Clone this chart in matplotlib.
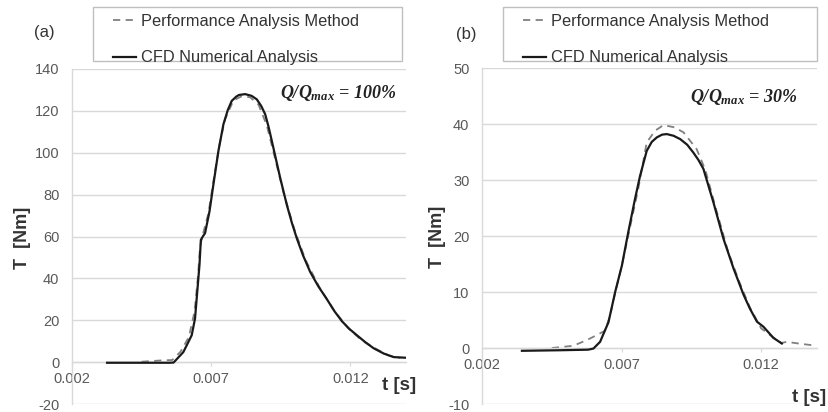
import matplotlib
matplotlib.use("Agg")
import matplotlib.pyplot as plt
from matplotlib.patches import Rectangle

plt.rcParams['font.family'] = ['Liberation Sans', 'DejaVu Sans']
plt.rcParams['axes.unicode_minus'] = False
plt.rcParams['mathtext.fontset'] = 'custom'
plt.rcParams['mathtext.rm'] = 'Liberation Serif:bold:italic'
plt.rcParams['mathtext.it'] = 'Liberation Serif:bold:italic'
plt.rcParams['mathtext.bf'] = 'Liberation Serif:bold:italic'

# ---- data
# (a) Q/Qmax = 100%
t_a_cfd = [0.00326, 0.0045, 0.0055, 0.00565, 0.0060, 0.0063, 0.00642, 0.00649, 0.00658,
           0.00663, 0.0067, 0.00678, 0.00694, 0.00708, 0.00726, 0.00744, 0.0076, 0.00774,
           0.0079, 0.0080, 0.00822, 0.00845, 0.00864, 0.0088, 0.00894, 0.00906, 0.00918,
           0.00933, 0.00948, 0.00972, 0.0099, 0.01008, 0.0103, 0.01056, 0.01085, 0.01116,
           0.01143, 0.0117, 0.01197, 0.01224, 0.01254, 0.01284, 0.0132, 0.01356, 0.01398]
T_a_cfd = [-0.3, -0.3, -0.3, -0.2, 4.8, 12.8, 20.8, 32, 46.4,
           58.4, 60.0, 61.6, 72, 84.8, 100.8, 113.6, 120.5, 124.8,
           126.8, 127.6, 128, 127.2, 125.5, 122.3, 118.4, 112.5, 105.6,
           96.8, 88, 75, 66.5, 59, 51, 43, 36.2, 30,
           24.3, 19.5, 15.8, 12.8, 9.5, 6.6, 4.1, 2.4, 2.1]
t_a_pam = [0.0045, 0.0052, 0.0056, 0.0059, 0.0062, 0.0064, 0.00652, 0.0066, 0.0067, 0.0069,
           0.0071, 0.0073, 0.0075, 0.0078, 0.0081, 0.0084, 0.0087, 0.0090, 0.0093, 0.0096,
           0.0100, 0.0104, 0.0109, 0.0114, 0.0119, 0.0124, 0.0129, 0.0134, 0.0138]
T_a_pam = [0.2, 0.8, 1.0, 5, 12, 24, 40, 55, 61, 71,
           88, 104, 116, 125, 127, 126.5, 123, 113, 97, 81,
           63, 48.5, 35.5, 25, 16.5, 10.5, 6.5, 3, 2]

# (b) Q/Qmax = 30%
t_b_cfd = [0.00343, 0.0048, 0.0058, 0.00599, 0.00623, 0.00653, 0.00677, 0.00701, 0.00724,
           0.00748, 0.00766, 0.0079, 0.00808, 0.00826, 0.00845, 0.00862, 0.00886, 0.0091,
           0.00935, 0.00957, 0.00975, 0.00993, 0.01029, 0.01065, 0.01101, 0.01137, 0.0116,
           0.01185, 0.01208, 0.01244, 0.01274]
T_b_cfd = [-0.5, -0.4, -0.3, -0.1, 1.1, 4.6, 10, 14.7, 20.7,
           26.6, 30.7, 35.2, 36.8, 37.6, 38.1, 38.2, 37.9, 37.3,
           36.3, 34.9, 33.6, 32, 26, 19.5, 14.2, 9.5, 7.0,
           4.7, 3.8, 1.8, 0.8]
t_b_pam = [0.0045, 0.00527, 0.00575, 0.00611, 0.00641, 0.00659, 0.0068, 0.0070, 0.0073,
           0.0076, 0.0079, 0.0082, 0.0085, 0.0089, 0.00922, 0.00969, 0.0100, 0.0104,
           0.0108, 0.0112, 0.0116, 0.0120, 0.0124, 0.01272, 0.01292, 0.01334, 0.01382]
T_b_pam = [0.0, 0.4, 1.4, 2.3, 3.1, 5.8, 10.5, 14.5, 21.5,
           28.5, 36.7, 38.8, 39.8, 39.4, 38.5, 35.5, 31.8, 24.5,
           17.5, 12, 7.2, 3.5, 2.0, 0.9, 1.1, 0.8, 0.5]

x_ticks = [0.002, 0.007, 0.012]
x_labels = ["0.002", "0.007", "0.012"]
yticks_a = list(range(-20, 141, 20))
yticks_b = list(range(-10, 51, 10))
lab_pam = "Performance Analysis Method"
lab_cfd = "CFD Numerical Analysis"

W, H = 829, 412
fig = plt.figure(figsize=(W / 100, H / 100), dpi=100)

GRID = "#d9d9d9"
TICK = "#595959"


def fx(px):
    return px / W


def fy(py):
    return 1 - py / H


def setup(ax, yticks):
    ax.set_xlim(0.002, 0.014)
    ax.set_ylim(yticks[0], yticks[-1])
    ax.set_yticks(yticks)
    ax.set_xticks(x_ticks)
    ax.set_xticklabels(x_labels)
    for s in ("top", "right"):
        ax.spines[s].set_visible(False)
    ax.spines["bottom"].set_position(("data", 0))
    ax.spines["bottom"].set_color(GRID)
    ax.spines["left"].set_color(GRID)
    ax.spines["bottom"].set_linewidth(1.0)
    ax.spines["left"].set_linewidth(1.0)
    ax.yaxis.grid(True, color=GRID, linewidth=1.0)
    ax.set_axisbelow(True)
    ax.tick_params(axis="y", length=0, pad=9, labelsize=10.5, labelcolor=TICK)
    ax.tick_params(axis="x", length=3, direction="out", color=GRID, pad=4,
                   labelsize=10.5, labelcolor=TICK)
    for lab in ax.get_yticklabels() + ax.get_xticklabels():
        lab.set_clip_on(False)


panels = [
    dict(box=(72, 69, 406, 404), yt=yticks_a, tc=t_a_cfd, Tc=T_a_cfd, tp=t_a_pam, Tp=T_a_pam,
         tag="(a)", tagxy=(34, 33), q="100%", qxy=(396, 93), legbox=(93, 7, 402, 61),
         ylabxy=(23, 238), tlabxy=(399, 385)),
    dict(box=(482, 68, 817, 404), yt=yticks_b, tc=t_b_cfd, Tc=T_b_cfd, tp=t_b_pam, Tp=T_b_pam,
         tag="(b)", tagxy=(456, 35), q="30%", qxy=(797, 97), legbox=(503, 7, 817, 61),
         ylabxy=(437, 237), tlabxy=(809, 398)),
]

for p in panels:
    x0, y0, x1, y1 = p["box"]
    ax = fig.add_axes([fx(x0), fy(y1), fx(x1) - fx(x0), fy(y0) - fy(y1)])
    setup(ax, p["yt"])
    lp, = ax.plot(p["tp"], p["Tp"], color="#808080", linewidth=1.3, dashes=(4, 3),
                  label=lab_pam, zorder=2)
    lc, = ax.plot(p["tc"], p["Tc"], color="#1a1a1a", linewidth=1.6, label=lab_cfd, zorder=3)

    # legend box
    bx0, by0, bx1, by1 = p["legbox"]
    fig.patches.append(Rectangle((fx(bx0), fy(by1)), fx(bx1) - fx(bx0), fy(by0) - fy(by1),
                                 transform=fig.transFigure, facecolor="white",
                                 edgecolor="#bfbfbf", linewidth=1.0))
    fig.legend(handles=[lp, lc], loc="upper left",
               bbox_to_anchor=(fx(bx0 + 20), fy(by0 + 7)), frameon=False,
               fontsize=11.8, handlelength=1.4, handletextpad=0.3,
               labelspacing=1.3, borderpad=0, borderaxespad=0, labelcolor="#333333")

    fig.text(fx(p["tagxy"][0]), fy(p["tagxy"][1]), p["tag"], fontsize=12,
             color="#333333", ha="left", va="center")
    fig.text(fx(p["qxy"][0]), fy(p["qxy"][1]), r"$Q/Q_{max}$ = " + p["q"],
             fontsize=13, family="Liberation Serif", style="italic", weight="bold",
             color="#222222", ha="right", va="center")
    fig.text(fx(p["ylabxy"][0]), fy(p["ylabxy"][1]), "T  [Nm]", rotation=90,
             fontsize=13, weight="bold", color="#333333", ha="center", va="center")
    fig.text(fx(p["tlabxy"][0]), fy(p["tlabxy"][1]), "t [s]",
             fontsize=13.5, weight="bold", color="#333333", ha="center", va="center")

fig.savefig("out.png", dpi=100)
